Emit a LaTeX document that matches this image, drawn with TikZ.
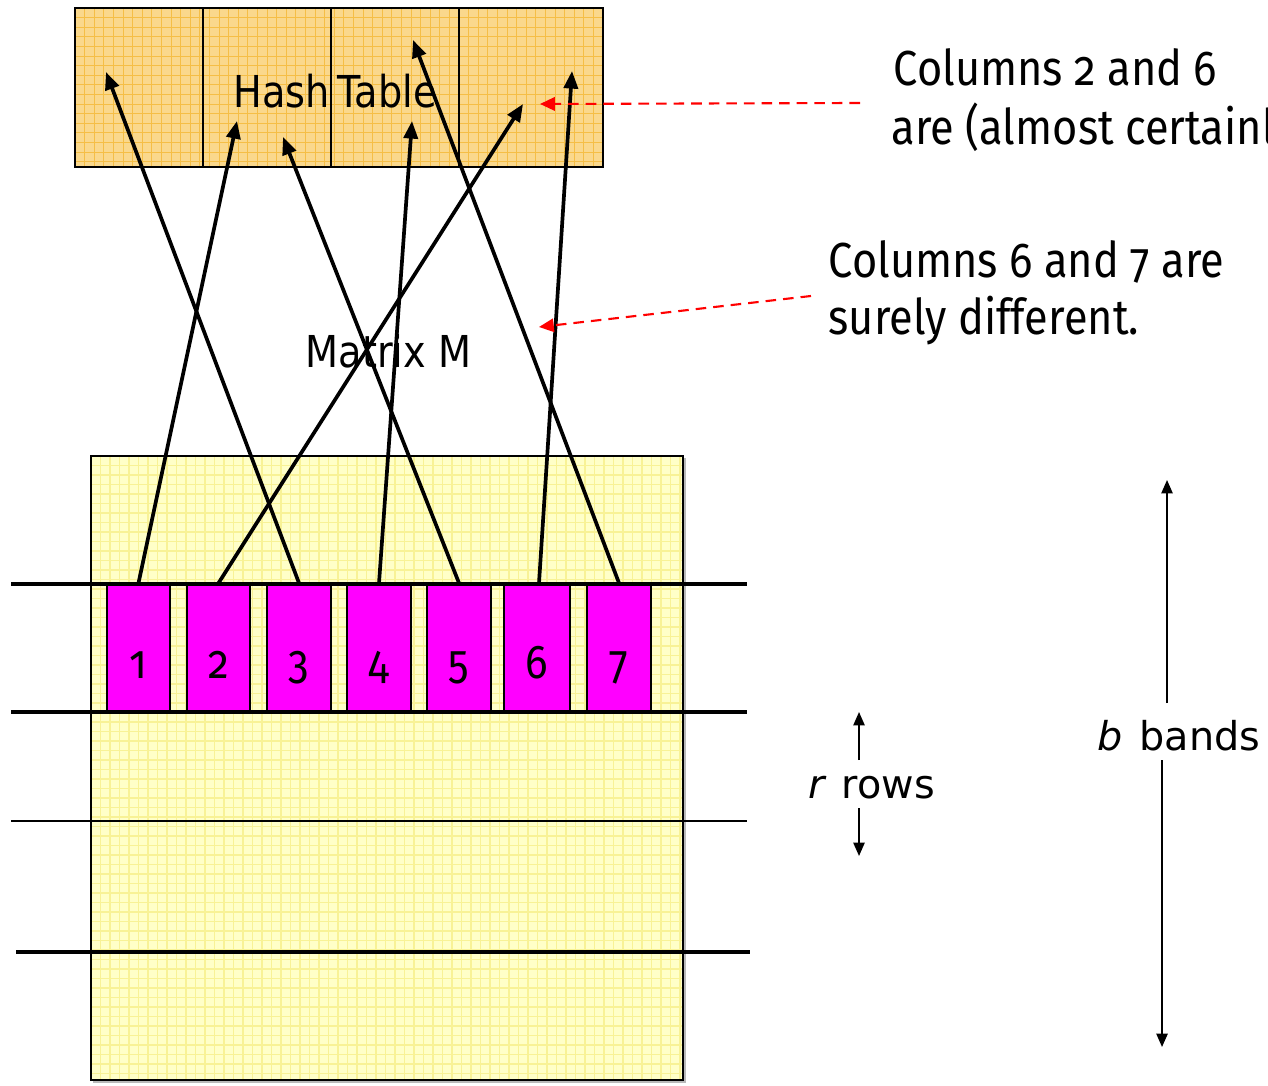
\documentclass[tikz,border=0pt]{standalone}
\usepackage{fontspec}
\usetikzlibrary{arrows.meta}
\newfontfamily\calfont[Numbers=OldStyle,FakeStretch=0.88]{Fira Sans}
\newfontfamily\djfont{DejaVu Sans}
\newfontfamily\djcond[FakeStretch=0.87]{DejaVu Sans}
\definecolor{htfill}{RGB}{250,216,140}
\definecolor{htgrid}{RGB}{245,190,70}
\definecolor{mxfill}{RGB}{255,255,200}
\definecolor{mxgrid}{RGB}{248,242,150}
\definecolor{mag}{RGB}{255,0,255}
\begin{document}
\begin{tikzpicture}[x=0.01cm,y=-0.01cm,
 colbox/.style={draw=black,line width=0.5pt,fill=mag,minimum width=0.63cm,minimum height=1.28cm,inner sep=0pt,text height=17.6pt,text depth=0pt,font=\calfont\fontsize{13.5}{16}\selectfont},
 htcell/.style={draw=black,line width=0.65pt,minimum height=1.59cm,inner sep=0pt},
 hasharrow/.style={line width=1.05pt,-{Triangle[length=5pt,width=4pt]}},
 note/.style={red,line width=0.6pt,dash pattern=on 3pt off 2pt,-{Triangle[length=4.2pt,width=3.8pt]}},
 dimarrow/.style={line width=0.5pt,-{Triangle[length=3.8pt,width=3.2pt]}},
 bandline/.style={line width=0.9pt},
 callout/.style={anchor=base west,inner sep=0pt,font=\calfont\fontsize{14}{16}\selectfont},
 lab/.style={anchor=base west,inner sep=0pt,font=\djcond\fontsize{12.5}{15}\selectfont},
 dimlab/.style={anchor=base west,inner sep=0pt,font=\djfont\fontsize{11.3}{13}\selectfont}]
\useasboundingbox (0,0) rectangle (1268,1086);
\fill[white] (0,0) rectangle (1268,1086);

% hash table background
\fill[htfill] (75,8) rectangle (603,167);
\begin{scope}
\clip (75,8) rectangle (603,167);
\foreach \x in {75,84.6,...,603} \draw[htgrid,line width=0.25pt] (\x,8) -- (\x,167);
\foreach \y in {8,17.6,...,167} \draw[htgrid,line width=0.25pt] (75,\y) -- (603,\y);
\end{scope}
\node[htcell,minimum width=1.28cm] (h1) at (139,87.5) {};
\node[htcell,minimum width=1.28cm] (h2) at (267,87.5) {};
\node[htcell,minimum width=1.28cm] (h3) at (395,87.5) {};
\node[htcell,minimum width=1.44cm] (h4) at (531,87.5) {};
\node[lab] (htlabel) at (233,108) {Hash\hspace{-0.1em} Table};

% matrix background
\fill[gray!55] (93,458) rectangle (686,1083);
\fill[mxfill] (91,456) rectangle (683,1080);
\begin{scope}
\clip (91,456) rectangle (683,1080);
\foreach \x in {91,100.5,...,683} \draw[mxgrid,line width=0.3pt] (\x,456) -- (\x,1080);
\foreach \y in {456,465.5,...,1080} \draw[mxgrid,line width=0.3pt] (91,\y) -- (683,\y);
\end{scope}
\node[draw=black,line width=0.5pt,minimum width=5.92cm,minimum height=6.24cm,inner sep=0pt] (M) at (387,768) {};
\node[lab] (mlabel) at (305,368) {Matrix M};

% columns of band 1
\node[colbox] (b1) at (138.5,648) {1};
\node[colbox] (b2) at (218.5,648) {2};
\node[colbox,minimum width=0.64cm] (b3) at (299,648) {3};
\node[colbox,minimum width=0.64cm] (b4) at (379,648) {4};
\node[colbox,minimum width=0.64cm] (b5) at (459,648) {5};
\node[colbox,minimum width=0.66cm] (b6) at (537,648) {6};
\node[colbox,minimum width=0.64cm] (b7) at (619,648) {7};

% band separators
\draw[bandline] (11,584) -- (747,584);
\draw[bandline] (11,712) -- (747,712);
\draw[line width=0.5pt] (11,821) -- (747,821);
\draw[line width=1.05pt] (16,952) -- (750,952);

% hash arrows
\coordinate (t1) at (237,121);
\coordinate (t2) at (523,104);
\coordinate (t3) at (106,72);
\coordinate (t4) at (412,121);
\coordinate (t5) at (283,137);
\coordinate (t6) at (572,71);
\coordinate (t7) at (413,40);
\draw[hasharrow] (b1.north) -- (t1);
\draw[hasharrow] (b2.north) -- (t2);
\draw[hasharrow] (b3.north) -- (t3);
\draw[hasharrow] (b4.north) -- (t4);
\draw[hasharrow] (b5.north) -- (t5);
\draw[hasharrow] ([xshift=0.02cm]b6.north) -- (t6);
\draw[hasharrow] (b7.north) -- (t7);

% callouts
\node[callout] (c1a) at (893,86) {Columns 2 and 6};
\node[callout] (c1b) at (891,145) {are (almost certainl};
\node[callout] (c2a) at (828,278) {Columns 6 and 7 are};
\node[callout] (c2b) at (828,335) {surely different.};
\coordinate (n1s) at (860,103);
\coordinate (n1e) at (540,104);
\coordinate (n2s) at (811,296);
\coordinate (n2e) at (539,327);
\draw[note] (n1s) -- (n1e);
\draw[note] (n2s) -- (n2e);

% r rows
\node[dimlab] (rlab) at (808,798) {\itshape r\upshape\hspace{0.42em}rows};
\coordinate (ru0) at (859,760);
\coordinate (ru1) at (859,712);
\coordinate (rd0) at (859,808);
\coordinate (rd1) at (859,856);
\draw[dimarrow] (ru0) -- (ru1);
\draw[dimarrow] (rd0) -- (rd1);

% b bands
\node[dimlab] (blab) at (1097,750) {\itshape b\upshape\hspace{0.42em}bands};
\coordinate (bu0) at (1167,703);
\coordinate (bu1) at (1167,480);
\coordinate (bd0) at (1162,760);
\coordinate (bd1) at (1162,1047);
\draw[dimarrow] (bu0) -- (bu1);
\draw[dimarrow] (bd0) -- (bd1);
\end{tikzpicture}
\end{document}
